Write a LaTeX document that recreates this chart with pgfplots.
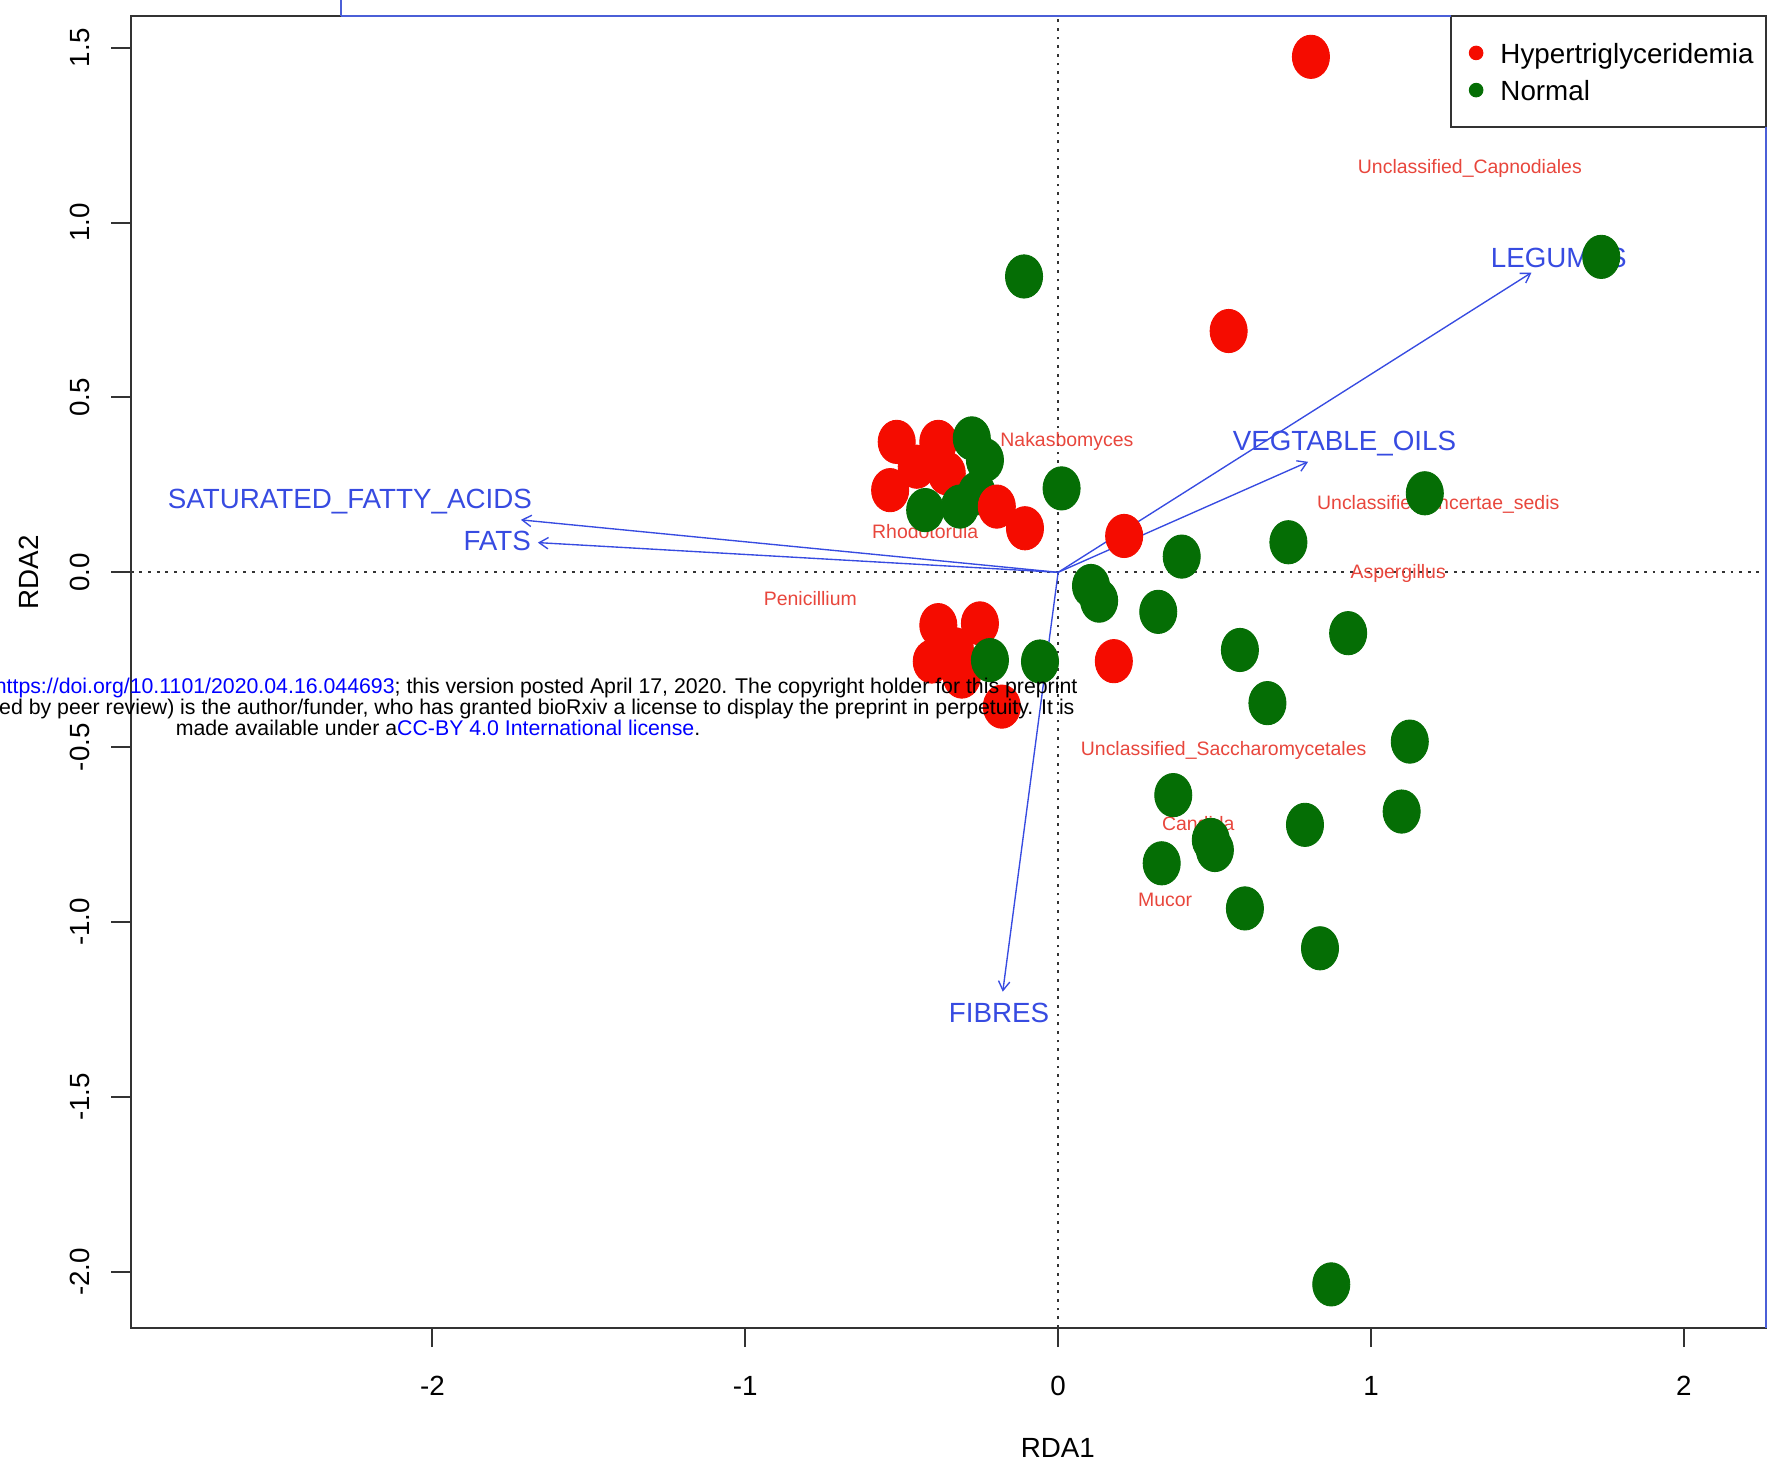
\documentclass[border=0pt]{standalone}
\usepackage{pgfplots}
\pgfplotsset{compat=1.18}
\usepackage{fontspec}
\setmainfont{Liberation Sans}
\usetikzlibrary{arrows.meta}
\definecolor{htg}{RGB}{245,12,0}
\definecolor{nrm}{RGB}{5,110,5}
\definecolor{splab}{RGB}{232,70,60}
\definecolor{envblue}{RGB}{55,75,225}
\definecolor{frameblue}{RGB}{75,95,215}
\definecolor{linkblue}{RGB}{0,0,255}

\pgfplotstableread{
x y
0.808 1.474
0.545 0.690
0.211 0.104
0.178 -0.254
-0.180 -0.384
-0.516 0.373
-0.383 0.373
-0.537 0.235
-0.452 0.302
-0.356 0.283
-0.383 -0.151
-0.250 -0.146
-0.404 -0.255
-0.330 -0.220
-0.308 -0.298
}\redA

\pgfplotstableread{
x y
-0.196 0.188
-0.106 0.126
}\redB

\pgfplotstableread{
x y
-0.109 0.846
1.736 0.902
0.011 0.240
1.172 0.226
0.736 0.086
0.395 0.045
0.105 -0.039
0.131 -0.081
0.320 -0.113
0.927 -0.174
0.581 -0.222
0.669 -0.374
1.124 -0.484
0.368 -0.637
1.098 -0.684
0.789 -0.722
0.488 -0.765
0.501 -0.794
0.331 -0.832
0.597 -0.961
0.837 -1.075
0.873 -2.036
-0.218 -0.251
-0.058 -0.255
-0.276 0.383
-0.234 0.321
-0.260 0.226
-0.425 0.178
-0.314 0.188
}\green

\begin{document}
\begin{tikzpicture}
\begin{axis}[
  scale only axis, width=718.5pt, height=576.5pt,
  xmin=-2.964, xmax=2.262, ymin=-2.160, ymax=1.591,
  clip=false,
  axis line style={black!80, line width=0.9pt},
  xtick={-2,-1,0,1,2}, xticklabels={-2,-1,0,1,2},
  ytick={-2,-1.5,-1,-0.5,0,0.5,1,1.5},
  yticklabels={-2.0,-1.5,-1.0,-0.5,0.0,0.5,1.0,1.5},
  xtick pos=left, ytick pos=left,
  tick align=outside, major tick length=8.5pt,
  tick style={black!80, line width=0.9pt},
  ticklabel style={font=\fontsize{12.2}{14}\selectfont},
  xticklabel style={anchor=north, inner sep=0pt, yshift=-12.5pt},
  yticklabel style={xshift=-9.5pt, rotate=90, anchor=south, inner sep=0pt},
  xlabel={RDA1}, ylabel={RDA2},
  label style={font=\fontsize{12.2}{14}\selectfont},
  xlabel style={at={(axis description cs:0.567,-0.0919)}, anchor=center},
  ylabel style={at={(axis description cs:-0.0626,0.576)}, anchor=center},
  legend style={at={(rel axis cs:1,1)}, anchor=north west, xshift=-130.5pt, yshift=-12.1pt,
    draw=none, fill=none, inner sep=0pt, outer sep=0pt, column sep=7.5pt, row sep=6pt,
    nodes={inner sep=0pt, font=\fontsize{12.2}{14}\selectfont}},
  legend cell align=left,
  legend image code/.code={\fill[#1] (3pt,1pt) circle (3pt);},
]
% dotted zero lines
\draw[black!80, line width=0.85pt, dash pattern=on 1.2pt off 2.6pt] (axis cs:-2.964,0) -- (axis cs:2.262,0);
\draw[black!80, line width=0.85pt, dash pattern=on 1.2pt off 2.6pt] (axis cs:0,-2.160) -- (axis cs:0,1.591);

% species labels
\begin{scope}[every node/.style={text=splab, font=\fontsize{8.55}{10}\selectfont, inner sep=0pt}]
\node at (axis cs:1.316,1.155) {Unclassified\_Capnodiales};
\node at (axis cs:0.028,0.373) {Nakasbomyces};
\node at (axis cs:-0.425,0.116) {Rhodotorula};
\node at (axis cs:-0.792,-0.074) {Penicillium};
\node at (axis cs:1.215,0.193) {Unclassified\_Incertae\_sedis};
\node at (axis cs:1.087,-0.003) {Aspergillus};
\node at (axis cs:0.529,-0.508) {Unclassified\_Saccharomycetales};
\node at (axis cs:0.448,-0.718) {Candida};
\node at (axis cs:0.342,-0.937) {Mucor};
\end{scope}

% environmental arrows
\begin{scope}[envblue, line width=0.6pt, -{Straight Barb[length=4pt,width=5pt]}]
\draw (axis cs:0,0) -- (axis cs:1.513,0.857);
\draw (axis cs:0,0) -- (axis cs:0.799,0.316);
\draw (axis cs:0,0) -- (axis cs:-1.717,0.150);
\draw (axis cs:0,0) -- (axis cs:-1.663,0.085);
\draw (axis cs:0,0) -- (axis cs:-0.177,-1.199);
\end{scope}
\begin{scope}[every node/.style={text=envblue, font=\fontsize{12.2}{14}\selectfont, inner sep=0pt}]
\node at (axis cs:1.600,0.898) {LEGUMES};
\node at (axis cs:0.915,0.369) {VEGTABLE\_OILS};
\node at (axis cs:-2.264,0.202) {SATURATED\_FATTY\_ACIDS};
\node at (axis cs:-1.793,0.090) {FATS};
\node at (axis cs:-0.189,-1.259) {FIBRES};
\end{scope}

% legend box
\draw[black!80, line width=0.9pt, fill=white] (axis cs:1.2545,1.272) rectangle (axis cs:2.262,1.591);

% sites
\addplot[only marks, mark=*, color=htg, mark size=9.5pt, mark options={xscale=0.858, draw=none, fill=htg}] table {\redA};
\addlegendentry{Hypertriglyceridemia}
\addplot[only marks, mark=*, color=nrm, mark size=9.5pt, mark options={xscale=0.858, draw=none, fill=nrm}] table {\green};
\addlegendentry{Normal}
\addplot[forget plot, only marks, mark=*, color=htg, mark size=9.5pt, mark options={xscale=0.858, draw=none, fill=htg}] table {\redB};

% blue frame artefacts
\draw[frameblue, line width=0.9pt] (axis cs:-2.291,1.591) -- (axis cs:1.2545,1.591);
\draw[frameblue, line width=0.9pt] (axis cs:2.262,1.272) -- (axis cs:2.262,-2.160);

\coordinate (SW) at (rel axis cs:0,0);
\coordinate (NE) at (rel axis cs:1,1);
\coordinate (BT) at (axis cs:-2.291,1.591);
\coordinate (WM) at (axis cs:-1.982,-0.384);
\end{axis}
\draw[frameblue, line width=0.9pt] (BT) -- ([yshift=8pt]BT);
\pgfresetboundingbox
\useasboundingbox ([xshift=-57.5pt,yshift=-61pt]SW) rectangle ([xshift=8pt,yshift=7pt]NE);
\begin{scope}
\clip ([xshift=-57.5pt,yshift=-61pt]SW) rectangle ([xshift=8pt,yshift=7pt]NE);
\node[align=center, font=\fontsize{9.36}{9.25}\selectfont, text=black, inner sep=0pt] at (WM)
{bioRxiv preprint doi: \textcolor{linkblue}{https://doi.org/10.1101/2020.04.16.044693}; this version posted April 17, 2020. The copyright holder for this preprint\\
(which was not certified by peer review) is the author/funder, who has granted bioRxiv a license to display the preprint in perpetuity. It is\\
made available under a\textcolor{linkblue}{CC-BY 4.0 International license}.};
\end{scope}
\end{tikzpicture}
\end{document}
